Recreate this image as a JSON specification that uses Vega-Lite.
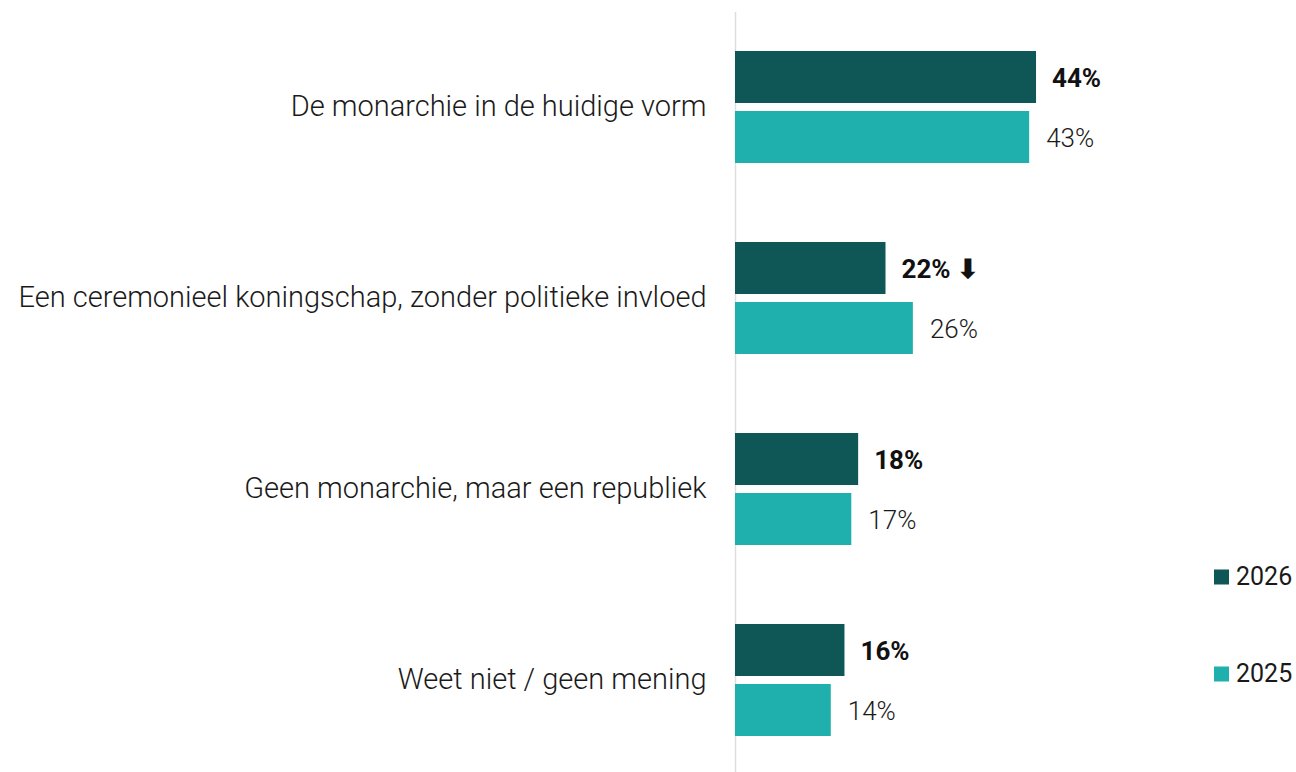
{
  "$schema": "https://vega.github.io/schema/vega-lite/v6.json",
  "width": 561,
  "height": 764,
  "autosize": "none",
  "padding": {"left": 735, "top": 11.5, "right": 0, "bottom": 0},
  "background": "white",
  "config": {"view": {"stroke": null}, "font": "Roboto"},
  "data": {"values": [
    {"cat": "De monarchie in de huidige vorm", "year": "2026", "value": 44, "label": "44%"},
    {"cat": "De monarchie in de huidige vorm", "year": "2025", "value": 43, "label": "43%"},
    {"cat": "Een ceremonieel koningschap, zonder politieke invloed", "year": "2026", "value": 22, "label": "22% ⬇"},
    {"cat": "Een ceremonieel koningschap, zonder politieke invloed", "year": "2025", "value": 26, "label": "26%"},
    {"cat": "Geen monarchie, maar een republiek", "year": "2026", "value": 18, "label": "18%"},
    {"cat": "Geen monarchie, maar een republiek", "year": "2025", "value": 17, "label": "17%"},
    {"cat": "Weet niet / geen mening", "year": "2026", "value": 16, "label": "16%"},
    {"cat": "Weet niet / geen mening", "year": "2025", "value": 14, "label": "14%"}
  ]},
  "encoding": {
    "y": {"field": "cat", "type": "nominal", "sort": null,
      "scale": {"paddingInner": 0, "paddingOuter": 0},
      "axis": {"title": null, "ticks": false, "domain": true, "domainColor": "#dddddd", "domainWidth": 1.5,
        "labelFontSize": 29, "labelColor": "#1a1a1a", "labelPadding": 29, "labelLimit": 900, "labelFont": "Roboto", "labelFontWeight": 300}},
    "yOffset": {"field": "year", "type": "nominal", "sort": ["2026", "2025"],
      "scale": {"paddingInner": 0.133, "paddingOuter": 0.658}},
    "x": {"field": "value", "type": "quantitative", "scale": {"domain": [0, 82]}, "axis": null}
  },
  "layer": [
    {"mark": {"type": "bar"},
     "encoding": {"color": {"field": "year", "type": "nominal", "sort": ["2026", "2025"],
       "scale": {"domain": ["2026", "2025"], "range": ["#0f5656", "#1fb0ae"]},
       "legend": {"title": null, "orient": "none", "legendX": 474, "legendY": 553,
         "symbolType": "square", "symbolSize": 225, "symbolStrokeWidth": 0,
         "labelFontSize": 25, "labelColor": "#1a1a1a", "labelFont": "Roboto", "labelFontWeight": "normal", "labelOffset": 2, "rowPadding": 71}}}},
    {"transform": [{"filter": "datum.year == '2026'"}],
     "mark": {"type": "text", "align": "left", "baseline": "middle", "dx": 16, "dy": 2, "fontSize": 26, "fontWeight": "bold", "color": "#111111"},
     "encoding": {"text": {"field": "label"}}},
    {"transform": [{"filter": "datum.year == '2025'"}],
     "mark": {"type": "text", "align": "left", "baseline": "middle", "dx": 17, "dy": 2, "fontSize": 26, "fontWeight": 300, "color": "#1a1a1a"},
     "encoding": {"text": {"field": "label"}}}
  ]
}
